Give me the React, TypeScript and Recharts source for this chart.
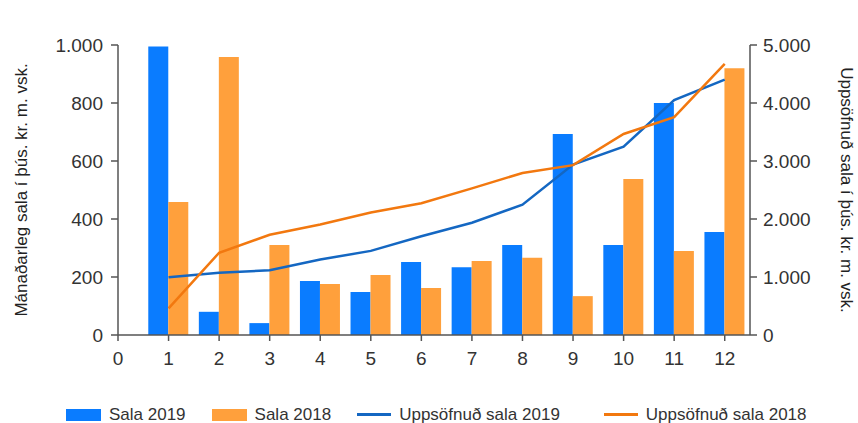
import React from "react";
import { Bar, ComposedChart, Line, XAxis, YAxis } from "recharts";

const months = [1, 2, 3, 4, 5, 6, 7, 8, 9, 10, 11, 12];
const sala2019 = [995, 80, 41, 186, 148, 252, 234, 310, 693, 310, 800, 355];
const sala2018 = [459, 959, 310, 176, 207, 162, 255, 266, 134, 538, 290, 920];
const cum2019 = [995, 1075, 1116, 1302, 1450, 1702, 1936, 2246, 2939, 3249, 4049, 4404];
const cum2018 = [459, 1418, 1728, 1904, 2111, 2273, 2528, 2794, 2928, 3466, 3756, 4676];

const xTicks = [0, 1, 2, 3, 4, 5, 6, 7, 8, 9, 10, 11, 12];
const leftTicks = [0, 200, 400, 600, 800, 1000];
const rightTicks = [0, 1000, 2000, 3000, 4000, 5000];

const BLUE_BAR = "#0a7cff";
const ORANGE_BAR = "#ffa03c";
const BLUE_LINE = "#1467c2";
const ORANGE_LINE = "#f2780f";
const AXIS = "#555";
const TEXT = "#333";
const FONT = "'Liberation Sans', Arial, sans-serif";

const data = months.map((m, i) => ({
  month: m,
  s2019: sala2019[i],
  s2018: sala2018[i],
  c2019: cum2019[i],
  c2018: cum2018[i]
}));

// 1000 -> "1.000"
function fmt(v: number): string {
  return String(v).replace(/\B(?=(\d{3})+(?!\d))/g, ".");
}

const legendItems = [
  { label: "Sala 2019", color: BLUE_BAR, kind: "box", gap: 26 },
  { label: "Sala 2018", color: ORANGE_BAR, kind: "box", gap: 26 },
  { label: "Uppsöfnuð sala 2019", color: BLUE_LINE, kind: "line", gap: 44 },
  { label: "Uppsöfnuð sala 2018", color: ORANGE_LINE, kind: "line", gap: 0 }
];

function ChartLegend() {
  return (
    <div
      style={{
        position: "absolute",
        top: 406,
        left: 66,
        display: "flex",
        alignItems: "center",
        fontFamily: FONT,
        fontSize: 17,
        color: TEXT
      }}
    >
      {legendItems.map((it) => (
        <div key={it.label} style={{ display: "flex", alignItems: "center", marginRight: it.gap }}>
          {it.kind === "box" ? (
            <span style={{ display: "inline-block", width: 35, height: 12, background: it.color }} />
          ) : (
            <span style={{ display: "inline-block", width: 34, height: 3, background: it.color }} />
          )}
          <span style={{ marginLeft: 8, lineHeight: "17px", whiteSpace: "nowrap" }}>{it.label}</span>
        </div>
      ))}
    </div>
  );
}

export default function App() {
  const tick = { fill: TEXT, fontSize: 19, fontFamily: FONT };
  return (
    <div style={{ position: "absolute", left: 0, top: 0, width: 858, height: 423, background: "#fff" }}>
      <ComposedChart
        width={858}
        height={395}
        data={data}
        margin={{ top: 45, right: 0, bottom: 20, left: 8 }}
        barGap={0}
      >
        <XAxis
          dataKey="month"
          type="number"
          domain={[0, 12.5]}
          ticks={xTicks}
          interval={0}
          height={40}
          tick={tick}
          tickSize={6}
          tickMargin={11}
          axisLine={{ stroke: AXIS, strokeWidth: 1.5 }}
          tickLine={{ stroke: AXIS, strokeWidth: 1.5 }}
        />
        <YAxis
          yAxisId="left"
          domain={[0, 1000]}
          ticks={leftTicks}
          tickFormatter={fmt}
          width={110}
          tick={tick}
          tickSize={7}
          tickMargin={8}
          axisLine={{ stroke: AXIS, strokeWidth: 1.5 }}
          tickLine={{ stroke: AXIS, strokeWidth: 1.5 }}
          label={{
            value: "Mánaðarleg sala í þús. kr. m. vsk.",
            angle: -90,
            position: "insideLeft",
            offset: 13,
            style: { textAnchor: "middle", fill: "#222", fontSize: 17, fontFamily: FONT }
          }}
        />
        <YAxis
          yAxisId="right"
          orientation="right"
          domain={[0, 5000]}
          ticks={rightTicks}
          tickFormatter={fmt}
          width={108}
          tick={tick}
          tickSize={7}
          tickMargin={6}
          axisLine={{ stroke: AXIS, strokeWidth: 1.5 }}
          tickLine={{ stroke: AXIS, strokeWidth: 1.5 }}
          label={{
            value: "Uppsöfnuð sala í þús. kr. m. vsk.",
            angle: 90,
            position: "insideRight",
            offset: 11,
            style: { textAnchor: "middle", fill: "#222", fontSize: 17, fontFamily: FONT }
          }}
        />

        <Bar yAxisId="left" dataKey="s2019" fill={BLUE_BAR} barSize={20} isAnimationActive={false} />
        <Bar yAxisId="left" dataKey="s2018" fill={ORANGE_BAR} barSize={20} isAnimationActive={false} />

        <Line
          yAxisId="right"
          dataKey="c2019"
          type="linear"
          stroke={BLUE_LINE}
          strokeWidth={2.5}
          dot={false}
          isAnimationActive={false}
        />
        <Line
          yAxisId="right"
          dataKey="c2018"
          type="linear"
          stroke={ORANGE_LINE}
          strokeWidth={2.5}
          dot={false}
          isAnimationActive={false}
        />
      </ComposedChart>
      <ChartLegend />
    </div>
  );
}
